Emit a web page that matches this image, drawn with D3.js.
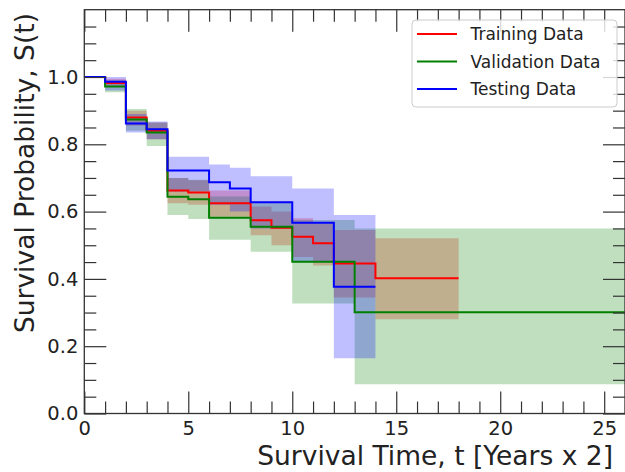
<!DOCTYPE html>
<html>
<head>
<meta charset="utf-8">
<script src="https://cdn.jsdelivr.net/npm/d3@7"></script>
<style>
  html, body { margin: 0; padding: 0; background: #fff; }
  svg { display: block; }
  text { font-family: "DejaVu Sans", sans-serif; fill: #222; }
</style>
</head>
<body>
<svg id="chart" width="625" height="472"></svg>
<script>
// Kaplan-Meier step curves (steps-post): value i holds from time i to time i+1
const trainTimes = [0, 1, 2, 3, 4, 5, 6, 8, 9, 10, 11, 12, 14, 18];
const trainSurv  = [1.0, 0.982, 0.880, 0.840, 0.663, 0.657, 0.625, 0.574, 0.552, 0.525, 0.506, 0.446, 0.402, 0.402];
const trainLo    = [1.0, 0.970, 0.855, 0.815, 0.625, 0.620, 0.585, 0.530, 0.500, 0.465, 0.440, 0.345, 0.280, 0.280];
const trainHi    = [1.0, 0.995, 0.900, 0.865, 0.700, 0.693, 0.663, 0.615, 0.600, 0.580, 0.565, 0.545, 0.521, 0.521];

const validTimes = [0, 1, 2, 3, 4, 5, 6, 8, 10, 13, 26];
const validSurv  = [1.0, 0.972, 0.874, 0.835, 0.644, 0.637, 0.582, 0.555, 0.451, 0.301, 0.301];
const validLo    = [1.0, 0.955, 0.840, 0.795, 0.590, 0.578, 0.516, 0.481, 0.327, 0.087, 0.087];
const validHi    = [1.0, 0.990, 0.905, 0.865, 0.700, 0.695, 0.645, 0.628, 0.575, 0.550, 0.550];

const testTimes = [0, 1, 2, 3, 4, 6, 7, 8, 10, 12, 14];
const testSurv  = [1.0, 0.986, 0.862, 0.845, 0.722, 0.687, 0.669, 0.628, 0.567, 0.377, 0.377];
const testLo    = [1.0, 0.960, 0.835, 0.815, 0.660, 0.620, 0.600, 0.550, 0.450, 0.164, 0.164];
const testHi    = [1.0, 1.000, 0.890, 0.868, 0.763, 0.740, 0.730, 0.705, 0.669, 0.590, 0.590];

const seriesNames = ["Training Data", "Validation Data", "Testing Data"];
const seriesColors = ["#ff0000", "#008000", "#0000ff"];

const xTicks = [0, 5, 10, 15, 20, 25];
const yTicks = [0.0, 0.2, 0.4, 0.6, 0.8, 1.0];

const series = [
  { name: seriesNames[0], color: seriesColors[0], t: trainTimes, s: trainSurv, lo: trainLo, hi: trainHi },
  { name: seriesNames[1], color: seriesColors[1], t: validTimes, s: validSurv, lo: validLo, hi: validHi },
  { name: seriesNames[2], color: seriesColors[2], t: testTimes, s: testSurv, lo: testLo, hi: testHi }
];

const svg = d3.select("#chart");
const pLeft = 84.3, pRight = 625, pTop = 9.7, pBottom = 413.5;

const x = d3.scaleLinear().domain([0, 26]).range([pLeft, pRight]);
const y = d3.scaleLinear().domain([0, 1.2]).range([pBottom, pTop]);

svg.append("defs").append("clipPath").attr("id", "plot-clip")
  .append("rect").attr("x", pLeft).attr("y", pTop)
  .attr("width", pRight - pLeft).attr("height", pBottom - pTop);

const plot = svg.append("g").attr("clip-path", "url(#plot-clip)");

const rows = d => d.t.map((t, i) => ({ t, s: d.s[i], lo: d.lo[i], hi: d.hi[i] }));

const band = d3.area().curve(d3.curveStepAfter)
  .x(d => x(d.t)).y0(d => y(d.lo)).y1(d => y(d.hi));
const line = d3.line().curve(d3.curveStepAfter)
  .x(d => x(d.t)).y(d => y(d.s));

// confidence bands first, curves on top
series.forEach(d => {
  plot.append("path").attr("d", band(rows(d)))
    .attr("fill", d.color).attr("fill-opacity", 0.25).attr("stroke", "none");
});
series.forEach(d => {
  plot.append("path").attr("d", line(rows(d)))
    .attr("fill", "none").attr("stroke", d.color).attr("stroke-width", 2);
});

// axes with inward ticks on all four sides
const axisColor = "#333";
const majorLen = 22, minorLen = 12;
const xMinor = d3.range(0, 27, 1).filter(v => v % 5 !== 0);
const yMinor = d3.range(0, 1.2001, 0.05).map(v => +v.toFixed(2)).filter(v => Math.round(v * 100) % 20 !== 0);

function styleAxis(g) {
  g.select(".domain").remove();
  g.selectAll("line").attr("stroke", axisColor).attr("stroke-width", 1.2);
  g.selectAll("text").attr("font-family", "DejaVu Sans").attr("font-size", 19.5).attr("fill", "#222");
}

svg.append("g").attr("transform", `translate(0,${pBottom})`)
  .call(d3.axisBottom(x).tickValues(xTicks).tickSize(-majorLen).tickPadding(8).tickFormat(d3.format("d")))
  .call(styleAxis);
svg.append("g").attr("transform", `translate(0,${pBottom})`)
  .call(d3.axisBottom(x).tickValues(xMinor).tickSize(-minorLen).tickFormat(""))
  .call(styleAxis);
svg.append("g").attr("transform", `translate(0,${pTop})`)
  .call(d3.axisTop(x).tickValues(xTicks).tickSize(-majorLen).tickFormat(""))
  .call(styleAxis);
svg.append("g").attr("transform", `translate(0,${pTop})`)
  .call(d3.axisTop(x).tickValues(xMinor).tickSize(-minorLen).tickFormat(""))
  .call(styleAxis);

svg.append("g").attr("transform", `translate(${pLeft},0)`)
  .call(d3.axisLeft(y).tickValues(yTicks).tickSize(-majorLen).tickPadding(6).tickFormat(d3.format(".1f")))
  .call(styleAxis);
svg.append("g").attr("transform", `translate(${pLeft},0)`)
  .call(d3.axisLeft(y).tickValues(yMinor).tickSize(-minorLen).tickFormat(""))
  .call(styleAxis);
svg.append("g").attr("transform", `translate(${pRight},0)`)
  .call(d3.axisRight(y).tickValues(yTicks).tickSize(-majorLen).tickFormat(""))
  .call(styleAxis);
svg.append("g").attr("transform", `translate(${pRight},0)`)
  .call(d3.axisRight(y).tickValues(yMinor).tickSize(-minorLen).tickFormat(""))
  .call(styleAxis);

// frame
svg.append("rect").attr("x", pLeft).attr("y", pTop)
  .attr("width", pRight - pLeft).attr("height", pBottom - pTop)
  .attr("fill", "none").attr("stroke", axisColor).attr("stroke-width", 1.3);

// axis titles
svg.append("text").attr("x", 613).attr("y", 465)
  .attr("text-anchor", "end").attr("font-size", 26.5)
  .text("Survival Time, t [Years x 2]");
svg.append("text")
  .attr("transform", "translate(34,13) rotate(-90)")
  .attr("text-anchor", "end").attr("font-size", 26.5)
  .text("Survival Probability, S(t)");

// legend
const legend = svg.append("g");
legend.append("rect").attr("x", 412).attr("y", 20).attr("width", 205).attr("height", 87)
  .attr("rx", 4).attr("fill", "#fff").attr("fill-opacity", 0.8)
  .attr("stroke", "#cccccc").attr("stroke-width", 1);
series.forEach((d, i) => {
  const yy = 34 + i * 27.5;
  legend.append("line").attr("x1", 417).attr("x2", 457).attr("y1", yy).attr("y2", yy)
    .attr("stroke", d.color).attr("stroke-width", 2);
  legend.append("text").attr("x", 470.5).attr("y", yy).attr("dy", "0.36em")
    .attr("font-size", 17).text(d.name);
});
</script>
</body>
</html>
